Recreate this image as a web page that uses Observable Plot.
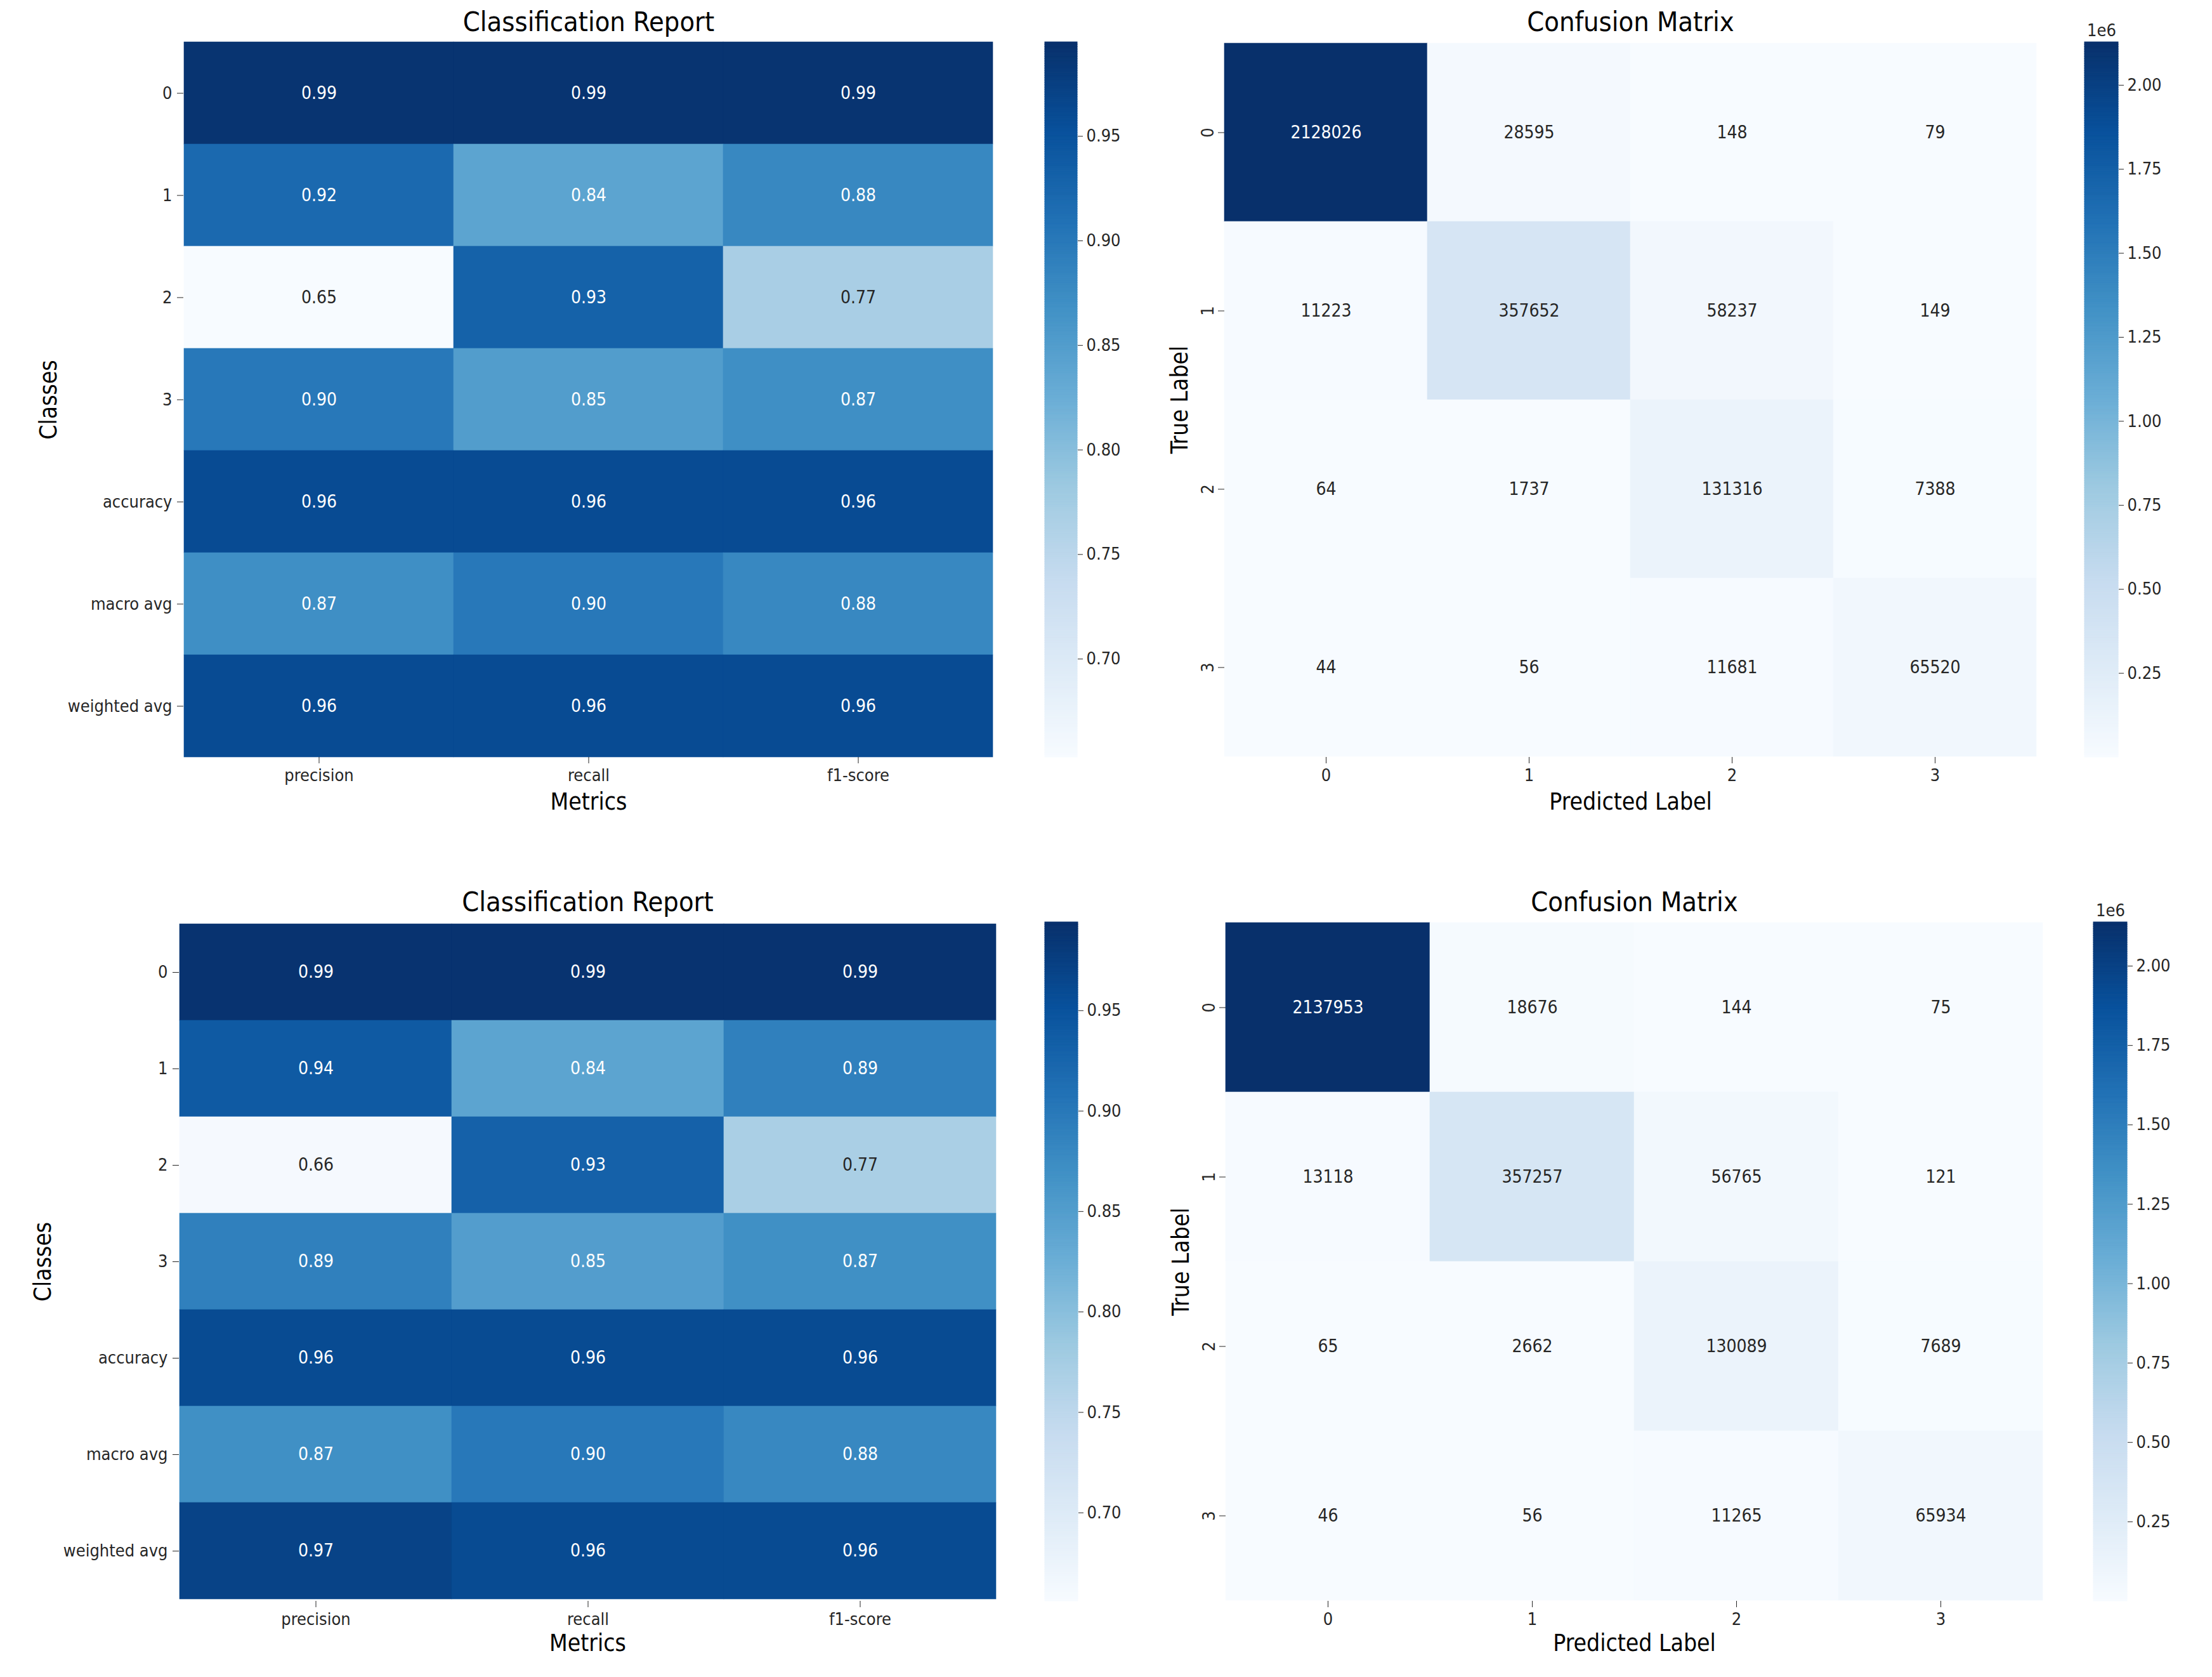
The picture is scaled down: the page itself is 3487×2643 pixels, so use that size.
<!DOCTYPE html>
<html>
<head>
<meta charset="utf-8">
<script src="https://cdn.jsdelivr.net/npm/d3@7"></script>
<script src="https://cdn.jsdelivr.net/npm/@observablehq/plot@0.6"></script>
<style>
  html, body { margin: 0; padding: 0; background: white; }
  #root { position: relative; width: 3487px; height: 2643px; background: white; overflow: hidden; }
  .panel { position: absolute; }
  .panel svg { background: transparent !important; overflow: visible; }
</style>
</head>
<body>
<div id="root"></div>
<script>
// ---------------- data ----------------
const crClasses = ["0", "1", "2", "3", "accuracy", "macro avg", "weighted avg"];
const crMetrics = ["precision", "recall", "f1-score"];
const crTopValues = [
  [0.99, 0.99, 0.99],
  [0.92, 0.84, 0.88],
  [0.65, 0.93, 0.77],
  [0.90, 0.85, 0.87],
  [0.96, 0.96, 0.96],
  [0.87, 0.90, 0.88],
  [0.96, 0.96, 0.96]
];
const crBottomValues = [
  [0.99, 0.99, 0.99],
  [0.94, 0.84, 0.89],
  [0.66, 0.93, 0.77],
  [0.89, 0.85, 0.87],
  [0.96, 0.96, 0.96],
  [0.87, 0.90, 0.88],
  [0.97, 0.96, 0.96]
];
const crTopRange = [0.653, 0.995];
const crBottomRange = [0.656, 0.994];
const crTicks = [0.70, 0.75, 0.80, 0.85, 0.90, 0.95];

const cmLabels = ["0", "1", "2", "3"];
const cmTopValues = [
  [2128026, 28595, 148, 79],
  [11223, 357652, 58237, 149],
  [64, 1737, 131316, 7388],
  [44, 56, 11681, 65520]
];
const cmBottomValues = [
  [2137953, 18676, 144, 75],
  [13118, 357257, 56765, 121],
  [65, 2662, 130089, 7689],
  [46, 56, 11265, 65934]
];
const cmTicks = [250000, 500000, 750000, 1000000, 1250000, 1500000, 1750000, 2000000];

// ---------------- styling helpers ----------------
const BLUES9 = ["#f7fbff", "#deebf7", "#c6dbef", "#9ecae1", "#6baed6", "#4292c6", "#2171b5", "#08519c", "#08306b"];
const blues = d3.piecewise(d3.interpolateRgb, BLUES9);
const FONT = "'DejaVu Sans Condensed', 'DejaVu Sans', sans-serif";
const TXT = "#262626";

function lum(color) {
  const c = d3.rgb(color);
  const f = v => { v /= 255; return v <= 0.03928 ? v / 12.92 : Math.pow((v + 0.055) / 1.055, 2.4); };
  return 0.2126 * f(c.r) + 0.7152 * f(c.g) + 0.0722 * f(c.b);
}

function tidy(rows, cols, values) {
  const out = [];
  rows.forEach((r, i) => cols.forEach((c, j) => out.push({row: r, col: c, value: values[i][j]})));
  return out;
}

const root = document.getElementById("root");
function place(node, left, top) {
  const d = document.createElement("div");
  d.className = "panel";
  d.style.left = left + "px";
  d.style.top = top + "px";
  d.appendChild(node);
  root.appendChild(d);
}

function heatmap({rows, cols, values, domain, fmt, title, xLabel, yLabel, rotateY, left, top, width, height, margins, yLabelDx, xLabelDy}) {
  const data = tidy(rows, cols, values);
  const [lo, hi] = domain;
  const isDark = d => lum(blues(Math.max(0, Math.min(1, (d.value - lo) / (hi - lo))))) < 0.408;
  const chart = Plot.plot({
    width, height,
    marginLeft: margins[0], marginTop: margins[1], marginRight: margins[2], marginBottom: margins[3],
    style: {fontFamily: FONT, fontSize: "27px", color: TXT, background: "transparent", overflow: "visible"},
    x: {type: "band", domain: cols, padding: 0, axis: null},
    y: {type: "band", domain: rows, padding: 0, axis: null},
    color: {type: "linear", domain, interpolate: blues, clamp: true},
    marks: [
      Plot.cell(data, {x: "col", y: "row", fill: "value", inset: 0, stroke: "value", strokeWidth: 0.6}),
      Plot.text(data, {x: "col", y: "row", text: d => fmt(d.value), filter: isDark, fill: "white", fontSize: 28}),
      Plot.text(data, {x: "col", y: "row", text: d => fmt(d.value), filter: d => !isDark(d), fill: TXT, fontSize: 28}),
      Plot.axisX({anchor: "bottom", tickSize: 10, tickPadding: 8, fontSize: 27, label: null}),
      rotateY
        ? Plot.axisY({anchor: "left", tickSize: 10, tickPadding: 8, fontSize: 27, label: null, tickRotate: -90})
        : Plot.axisY({anchor: "left", tickSize: 10, tickPadding: 8, fontSize: 27, label: null}),
      Plot.text([title], {frameAnchor: "top", dy: -31, textAnchor: "middle", lineAnchor: "middle", fontSize: 43, fill: "black"}),
      Plot.text([xLabel], {frameAnchor: "bottom", dy: xLabelDy, textAnchor: "middle", lineAnchor: "middle", fontSize: 37, fill: "black"}),
      Plot.text([yLabel], {frameAnchor: "left", dx: yLabelDx, rotate: -90, textAnchor: "middle", lineAnchor: "middle", fontSize: 37, fill: "black"})
    ]
  });
  place(chart, left, top);
}

function colorbar({domain, ticks, tickFmt, exponent, left, top, width, height, margins}) {
  const [lo, hi] = domain;
  const N = 300;
  const steps = d3.range(N);
  const marks = [
    Plot.rect(steps, {
      x1: 0, x2: 1,
      y1: i => lo + (hi - lo) * i / N,
      y2: i => lo + (hi - lo) * (i + 1) / N,
      fill: i => lo + (hi - lo) * (i + 0.5) / N,
      stroke: i => lo + (hi - lo) * (i + 0.5) / N,
      strokeWidth: 1
    }),
    Plot.axisY({anchor: "right", ticks, tickFormat: tickFmt, tickSize: 8, tickPadding: 6, fontSize: 27, label: null})
  ];
  if (exponent) marks.push(Plot.text([exponent], {frameAnchor: "top", dy: -18, textAnchor: "middle", lineAnchor: "middle", fontSize: 27, fill: TXT}));
  const chart = Plot.plot({
    width, height,
    marginLeft: margins[0], marginTop: margins[1], marginRight: margins[2], marginBottom: margins[3],
    style: {fontFamily: FONT, fontSize: "27px", color: TXT, background: "transparent", overflow: "visible"},
    x: {domain: [0, 1], axis: null},
    y: {domain: [lo, hi], axis: null},
    color: {type: "linear", domain, interpolate: blues, clamp: true},
    marks
  });
  place(chart, left, top);
}

const fmt2 = v => v.toFixed(2);
const fmtInt = v => String(v);

// ---------- top row ----------
heatmap({
  rows: crClasses, cols: crMetrics, values: crTopValues, domain: crTopRange, fmt: fmt2,
  title: "Classification Report", xLabel: "Metrics", yLabel: "Classes", rotateY: false,
  left: 0, top: 0, width: 1600, height: 1330, margins: [289, 66, 34, 137], yLabelDx: -212, xLabelDy: 71
});
colorbar({
  domain: crTopRange, ticks: crTicks, tickFmt: d => d.toFixed(2),
  left: 1600, top: 0, width: 200, height: 1330, margins: [47, 66, 102, 137]
});
const cmTopExtent = d3.extent(cmTopValues.flat());
heatmap({
  rows: cmLabels, cols: cmLabels, values: cmTopValues, domain: cmTopExtent, fmt: fmtInt,
  title: "Confusion Matrix", xLabel: "Predicted Label", yLabel: "True Label", rotateY: true,
  left: 1740, top: 0, width: 1520, height: 1330, margins: [190, 66, 50, 137], yLabelDx: -70, xLabelDy: 71
});
colorbar({
  domain: cmTopExtent, ticks: cmTicks, tickFmt: d => (d / 1e6).toFixed(2), exponent: "1e6",
  left: 3260, top: 0, width: 227, height: 1330, margins: [26, 66, 148, 137]
});

// ---------- bottom row ----------
heatmap({
  rows: crClasses, cols: crMetrics, values: crBottomValues, domain: crBottomRange, fmt: fmt2,
  title: "Classification Report", xLabel: "Metrics", yLabel: "Classes", rotateY: false,
  left: 0, top: 1340, width: 1620, height: 1303, margins: [282, 113, 50, 120], yLabelDx: -214, xLabelDy: 67
});
colorbar({
  domain: crBottomRange, ticks: crTicks, tickFmt: d => d.toFixed(2),
  left: 1620, top: 1340, width: 200, height: 1303, margins: [27, 113, 121, 120]
});
const cmBottomExtent = d3.extent(cmBottomValues.flat());
heatmap({
  rows: cmLabels, cols: cmLabels, values: cmBottomValues, domain: cmBottomExtent, fmt: fmtInt,
  title: "Confusion Matrix", xLabel: "Predicted Label", yLabel: "True Label", rotateY: true,
  left: 1740, top: 1340, width: 1520, height: 1303, margins: [192, 113, 40, 120], yLabelDx: -70, xLabelDy: 67
});
colorbar({
  domain: cmBottomExtent, ticks: cmTicks, tickFmt: d => (d / 1e6).toFixed(2), exponent: "1e6",
  left: 3260, top: 1340, width: 227, height: 1303, margins: [40, 113, 134, 120]
});
</script>
</body>
</html>
